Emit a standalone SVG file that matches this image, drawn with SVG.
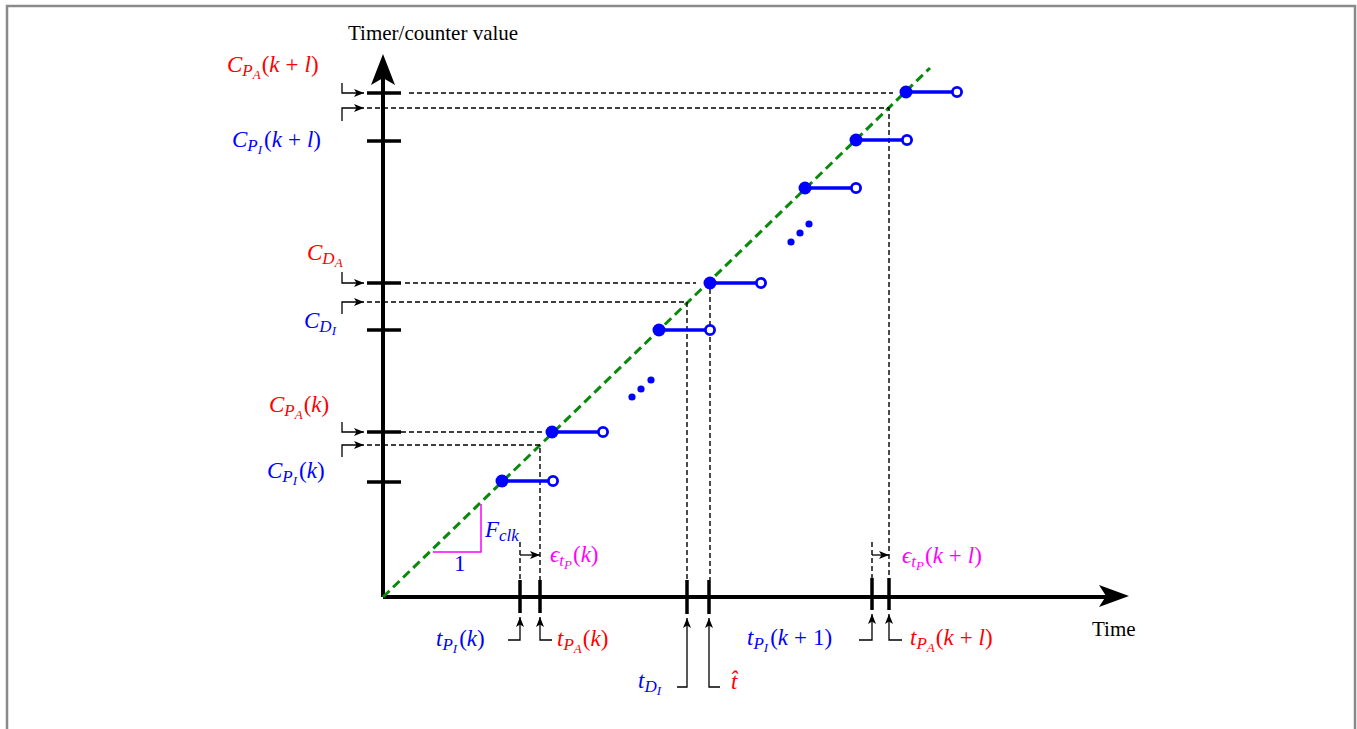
<svg xmlns="http://www.w3.org/2000/svg" width="1357" height="729" viewBox="0 0 1357 729">
<defs>
<style>
.frame{fill:none;stroke:#8a8a8a;stroke-width:2.5}
.axis{fill:none;stroke:#000;stroke-width:4}
.tick{fill:none;stroke:#000;stroke-width:3.5}
.dash{fill:none;stroke:#000;stroke-width:1.4;stroke-dasharray:5 3}
.green{fill:none;stroke:#0a8a0a;stroke-width:3;stroke-dasharray:9 5}
.ptr{fill:none;stroke:#000;stroke-width:1.3;marker-end:url(#ah)}
.step{fill:none;stroke:#0000ff;stroke-width:3.5}
.fill{fill:#0000ff}
.open{fill:#fff;stroke:#0000ff;stroke-width:2.8}
.mag{fill:none;stroke:#ff00ff;stroke-width:1.5}
.m{font-family:"Liberation Serif",serif;font-size:23px}
.t{font-family:"Liberation Serif",serif;font-size:21px}
.i{font-style:italic}
.s{font-size:17px;font-style:italic}
.ss{font-size:13px;font-style:italic}
.red{fill:#ff0000}
.blue{fill:#0000ff}
.pink{fill:#ff00ff}
.blk{fill:#000}
</style>
<marker id="ah" viewBox="0 0 10 8" refX="10" refY="4" markerWidth="11" markerHeight="8" markerUnits="userSpaceOnUse" orient="auto">
<path d="M0,0 L10,4 L0,8 L2.5,4 z" fill="#000"/>
</marker>
</defs>
<rect class="frame" x="7" y="6" width="1348" height="740"/>

<g id="axes">
<line class="axis" x1="383" y1="597" x2="383" y2="72"/>
<path d="M383,54 L371,85 L383,78 L395,85 z" fill="#000"/>
<line class="axis" x1="383" y1="597" x2="1112" y2="597"/>
<path d="M1129,596 L1099,585 L1106,596 L1099,607 z" fill="#000"/>
<text class="t blk" x="348" y="40">Timer/counter value</text>
<text class="t blk" x="1092" y="636">Time</text>
</g>

<g id="y-ticks">
<line class="tick" x1="367" y1="93" x2="401" y2="93"/>
<line class="tick" x1="367" y1="141" x2="401" y2="141"/>
<line class="tick" x1="367" y1="283" x2="401" y2="283"/>
<line class="tick" x1="367" y1="330" x2="401" y2="330"/>
<line class="tick" x1="367" y1="432" x2="401" y2="432"/>
<line class="tick" x1="367" y1="482" x2="401" y2="482"/>
</g>

<g id="x-ticks">
<line class="tick" x1="520" y1="580" x2="520" y2="613"/>
<line class="tick" x1="540" y1="580" x2="540" y2="613"/>
<line class="tick" x1="687" y1="580" x2="687" y2="614"/>
<line class="tick" x1="709" y1="580" x2="709" y2="614"/>
<line class="tick" x1="872" y1="578" x2="872" y2="610"/>
<line class="tick" x1="889" y1="578" x2="889" y2="610"/>
</g>

<g id="connectors">
<line class="green" x1="383" y1="597" x2="930" y2="68"/>
<path class="dash" d="M409,93 H893"/>
<path class="dash" d="M367,108 H889 V578"/>
<path class="dash" d="M405,283 H696"/>
<path class="dash" d="M367,302 H687 V580"/>
<path class="dash" d="M710,289 V580"/>
<path class="dash" d="M401,432 H545"/>
<path class="dash" d="M367,445 H540 V580"/>
<path class="dash" d="M520,542 V580"/>
<path class="dash" d="M872,542 V578"/>
<path class="ptr" d="M520,555 H540"/>
<path class="ptr" d="M872,555 H889"/>
<path class="ptr" d="M342,83 V93 H364"/>
<path class="ptr" d="M342,121 V108 H364"/>
<path class="ptr" d="M342,272 V283 H364"/>
<path class="ptr" d="M342,314 V302 H364"/>
<path class="ptr" d="M342,422 V432 H364"/>
<path class="ptr" d="M342,457 V445 H364"/>
<path class="ptr" d="M508,640 H520 V617"/>
<path class="ptr" d="M552,640 H540 V617"/>
<path class="ptr" d="M677,687 H687 V618"/>
<path class="ptr" d="M720,687 H709 V618"/>
<path class="ptr" d="M859,640 H872 V614"/>
<path class="ptr" d="M902,640 H889 V614"/>
</g>

<g id="slope">
<path class="mag" d="M433,552 H481 V504"/>
<text class="m blue" x="485" y="537"><tspan class="i">F</tspan><tspan class="s" dy="4">clk</tspan></text>
<text class="m blue" x="454" y="571">1</text>
</g>

<g id="steps">
<line class="step" x1="502" y1="481" x2="553" y2="481"/><circle class="fill" cx="502" cy="481" r="6.5"/><circle class="open" cx="553" cy="481" r="4.6"/>
<line class="step" x1="552" y1="432" x2="603" y2="432"/><circle class="fill" cx="552" cy="432" r="6.5"/><circle class="open" cx="603" cy="432" r="4.6"/>
<line class="step" x1="659" y1="330" x2="710" y2="330"/><circle class="fill" cx="659" cy="330" r="6.5"/><circle class="open" cx="710" cy="330" r="4.6"/>
<line class="step" x1="710" y1="283" x2="761" y2="283"/><circle class="fill" cx="710" cy="283" r="6.5"/><circle class="open" cx="761" cy="283" r="4.6"/>
<line class="step" x1="805" y1="188" x2="856" y2="188"/><circle class="fill" cx="805" cy="188" r="6.5"/><circle class="open" cx="856" cy="188" r="4.6"/>
<line class="step" x1="856" y1="140" x2="907" y2="140"/><circle class="fill" cx="856" cy="140" r="6.5"/><circle class="open" cx="907" cy="140" r="4.6"/>
<line class="step" x1="906" y1="92" x2="957" y2="92"/><circle class="fill" cx="906" cy="92" r="6.5"/><circle class="open" cx="957" cy="92" r="4.6"/>
<circle class="fill" cx="632" cy="397" r="3.6"/><circle class="fill" cx="641" cy="389" r="3.6"/><circle class="fill" cx="651" cy="380" r="3.6"/>
<circle class="fill" cx="791" cy="242" r="3.6"/><circle class="fill" cx="800" cy="233" r="3.6"/><circle class="fill" cx="809" cy="224" r="3.6"/>
</g>

<g id="labels-y">
<text class="m red" x="227" y="72"><tspan class="i">C</tspan><tspan class="s" dy="4">P</tspan><tspan class="ss" dy="3">A</tspan><tspan dy="-7" dx="1">(</tspan><tspan class="i">k</tspan><tspan dx="6">+</tspan><tspan class="i" dx="6">l</tspan>)</text>
<text class="m blue" x="232" y="147"><tspan class="i">C</tspan><tspan class="s" dy="4">P</tspan><tspan class="ss" dy="3">I</tspan><tspan dy="-7" dx="2">(</tspan><tspan class="i">k</tspan><tspan dx="6">+</tspan><tspan class="i" dx="6">l</tspan>)</text>
<text class="m red" x="307" y="260"><tspan class="i">C</tspan><tspan class="s" dy="4">D</tspan><tspan class="ss" dy="3">A</tspan></text>
<text class="m blue" x="304" y="328"><tspan class="i">C</tspan><tspan class="s" dy="4">D</tspan><tspan class="ss" dy="3">I</tspan></text>
<text class="m red" x="269" y="412"><tspan class="i">C</tspan><tspan class="s" dy="4">P</tspan><tspan class="ss" dy="3">A</tspan><tspan dy="-7" dx="1">(</tspan><tspan class="i">k</tspan>)</text>
<text class="m blue" x="267" y="478"><tspan class="i">C</tspan><tspan class="s" dy="4">P</tspan><tspan class="ss" dy="3">I</tspan><tspan dy="-7" dx="2">(</tspan><tspan class="i">k</tspan>)</text>
</g>

<g id="labels-x">
<text class="m blue" x="436" y="646"><tspan class="i">t</tspan><tspan class="s" dy="4">P</tspan><tspan class="ss" dy="3">I</tspan><tspan dy="-7" dx="2">(</tspan><tspan class="i">k</tspan>)</text>
<text class="m red" x="557" y="646"><tspan class="i">t</tspan><tspan class="s" dy="4">P</tspan><tspan class="ss" dy="3">A</tspan><tspan dy="-7" dx="1">(</tspan><tspan class="i">k</tspan>)</text>
<text class="m pink" x="550" y="562"><tspan class="i">ϵ</tspan><tspan class="s" dy="4">t</tspan><tspan class="ss" dy="3">P</tspan><tspan dy="-7" dx="1">(</tspan><tspan class="i">k</tspan>)</text>
<text class="m blue" x="638" y="688"><tspan class="i">t</tspan><tspan class="s" dy="4">D</tspan><tspan class="ss" dy="3">I</tspan></text>
<text class="m red" x="731" y="689"><tspan class="i">t̂</tspan></text>
<text class="m blue" x="747" y="645"><tspan class="i">t</tspan><tspan class="s" dy="4">P</tspan><tspan class="ss" dy="3">I</tspan><tspan dy="-7" dx="2">(</tspan><tspan class="i">k</tspan><tspan dx="6">+</tspan><tspan dx="6">1</tspan>)</text>
<text class="m red" x="910" y="645"><tspan class="i">t</tspan><tspan class="s" dy="4">P</tspan><tspan class="ss" dy="3">A</tspan><tspan dy="-7" dx="1">(</tspan><tspan class="i">k</tspan><tspan dx="6">+</tspan><tspan class="i" dx="6">l</tspan>)</text>
<text class="m pink" x="902" y="563"><tspan class="i">ϵ</tspan><tspan class="s" dy="4">t</tspan><tspan class="ss" dy="3">P</tspan><tspan dy="-7" dx="1">(</tspan><tspan class="i">k</tspan><tspan dx="6">+</tspan><tspan class="i" dx="6">l</tspan>)</text>
</g>
</svg>
